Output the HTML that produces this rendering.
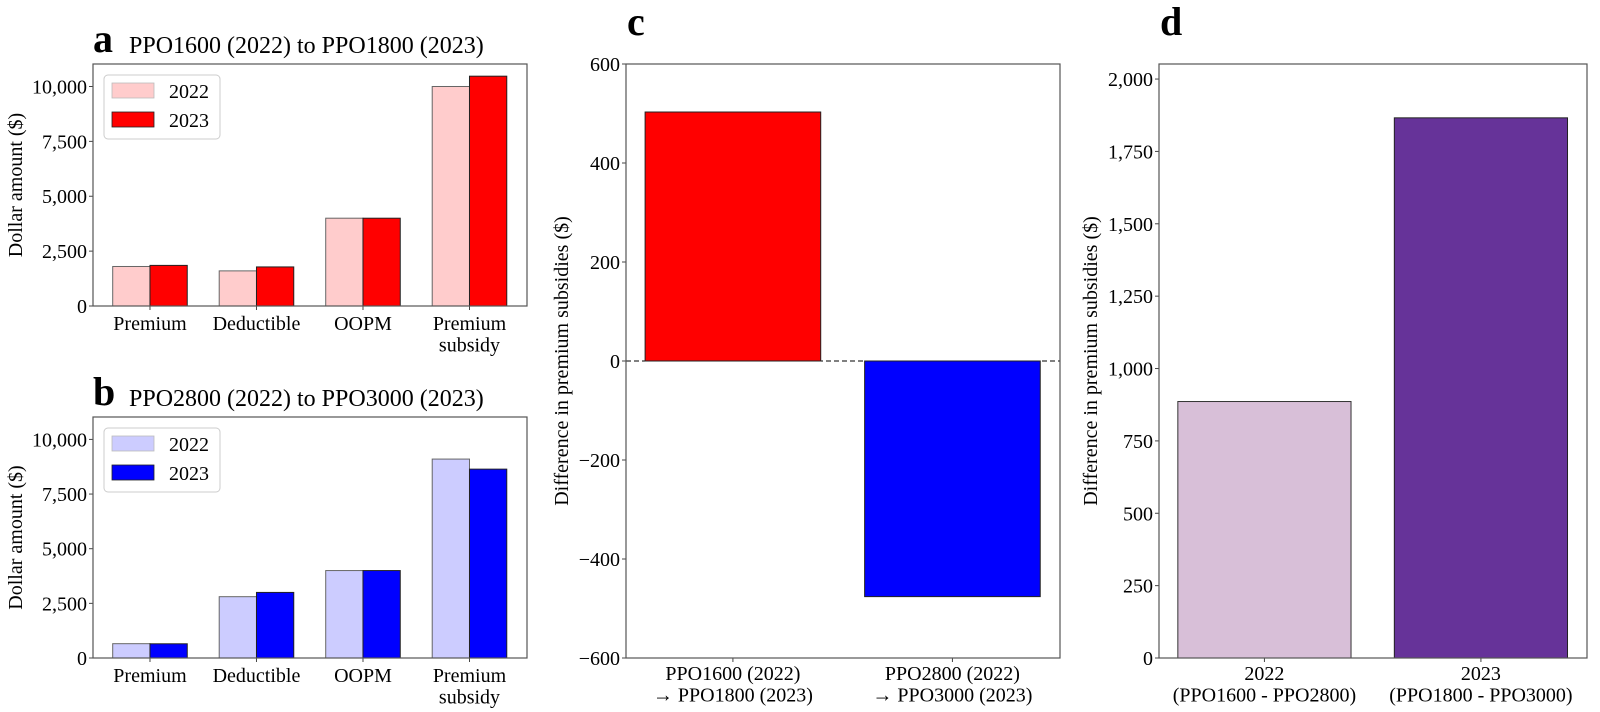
<!DOCTYPE html>
<html><head><meta charset="utf-8"><style>
html,body{margin:0;padding:0;background:#fff;width:1600px;height:712px;overflow:hidden}
svg text{font-family:"Liberation Serif","DejaVu Serif",serif;fill:#000}
</style></head><body>
<svg id="fig" width="1600" height="712" viewBox="0 0 1600 712" xmlns="http://www.w3.org/2000/svg" font-family="Liberation Serif, DejaVu Serif, serif"></svg>
<script>
const catsAB = ["Premium","Deductible","OOPM","Premium\nsubsidy"];
const a2022 = [1800,1600,4000,10000];
const a2023 = [1850,1780,4000,10470];
const b2022 = [655,2805,4000,9100];
const b2023 = [650,3000,4000,8640];
const abTicks = [0,2500,5000,7500,10000];
const abTickLabels = ["0","2,500","5,000","7,500","10,000"];
const cCats = ["PPO1600 (2022)\n\u2192 PPO1800 (2023)","PPO2800 (2022)\n\u2192 PPO3000 (2023)"];
const cVals = [503,-476];
const cTicks = [-600,-400,-200,0,200,400,600];
const cTickLabels = ["\u2212600","\u2212400","\u2212200","0","200","400","600"];
const dCats = ["2022\n(PPO1600 - PPO2800)","2023\n(PPO1800 - PPO3000)"];
const dVals = [886,1866];
const dTicks = [0,250,500,750,1000,1250,1500,1750,2000];
const dTickLabels = ["0","250","500","750","1,000","1,250","1,500","1,750","2,000"];

const NS="http://www.w3.org/2000/svg";
const svg=document.getElementById('fig');
const FS=20;
function mk(tag,attrs,parent){const e=document.createElementNS(NS,tag);for(const k in attrs)e.setAttribute(k,attrs[k]);(parent||svg).appendChild(e);return e;}
function txt(str,x,y,size,anchor,parent,extra){
  const lines=str.split("\n");
  const t=mk('text',Object.assign({x:x,y:y,'font-size':size,'text-anchor':anchor||'middle','font-family':'Liberation Serif, DejaVu Serif, serif'},extra||{}),parent);
  lines.forEach((l,i)=>{const s=mk('tspan',{x:x,dy:i===0?0:size*1.08},t);s.textContent=l;});
  return t;
}
function scaleY(y0,y1,px0,px1){return v=>px0+(v-y0)/(y1-y0)*(px1-px0);}
function scaleX(x0,x1,px0,px1){return v=>px0+(v-x0)/(x1-x0)*(px1-px0);}

function axesFrame(g,L,yS,ticks,labels,name){
  ticks.forEach((v,i)=>{
    const y=yS(v);
    const tk=mk('line',{x1:L-4,x2:L,y1:y,y2:y,stroke:'#444','stroke-width':1},g);
    
    
    const tl=txt(labels[i],L-6,y+7,FS,'end',g);
    
    
  });
}
function frame(g,L,T,R,B,name){
  const f=mk('rect',{x:L,y:T,width:R-L,height:B-T,fill:'none',stroke:'#555','stroke-width':1.2},g);
  
  
}

function groupedPanel(name,letter,title,L,T,R,B,v22,v23,c22,c23){
  const g=mk('g',{},svg);
  
  
  const yS=scaleY(0,11025,B,T);
  const xS=scaleX(-0.535,3.54,L,R);
  const w=0.35;
  axesFrame(g,L,yS,abTicks,abTickLabels,name);
  catsAB.forEach((c,i)=>{
    const x0=xS(i-w),xm=xS(i),x1=xS(i+w);
    const r1=mk('rect',{x:x0,y:yS(v22[i]),width:xm-x0,height:yS(0)-yS(v22[i]),fill:c22,stroke:'#666','stroke-width':1},g);
    
    
    const r2=mk('rect',{x:xm,y:yS(v23[i]),width:x1-xm,height:yS(0)-yS(v23[i]),fill:c23,stroke:'#222','stroke-width':1},g);
    
    
    const tk=mk('line',{x1:xm,x2:xm,y1:B,y2:B+4,stroke:'#444'},g);
    
    
    const tl=txt(c,xm,B+24,FS,'middle',g);
    
    
  });
  frame(g,L,T,R,B,name);
  const yl=txt("Dollar amount ($)",0,0,FS,'middle',g,{transform:`translate(22,${(T+B)/2}) rotate(-90)`});
  
  
  const pl=txt(letter,93,T-12,40,'start',g,{'font-weight':'bold'});
  
  
  const tt=txt(title,129,T-11,24,'start',g);
  
  
  const lg=mk('g',{},g);
  
  
  mk('rect',{x:L+11,y:T+11,width:116,height:64,rx:4,fill:'#fff',stroke:'#ccc','stroke-width':1},lg);
  const e1=mk('rect',{x:L+19,y:T+19,width:42,height:15,fill:c22,stroke:'#bbb','stroke-width':0.8},lg);
  
  
  const e2=mk('rect',{x:L+19,y:T+48,width:42,height:15,fill:c23,stroke:'#222','stroke-width':0.8},lg);
  
  
  const t1=txt("2022",L+76,T+34,FS,'start',lg);
  
  
  const t2=txt("2023",L+76,T+63,FS,'start',lg);
  
  
}
groupedPanel('panel-a','a','PPO1600 (2022) to PPO1800 (2023)',93,64,527,306,a2022,a2023,'#ffcccc','#ff0000');
groupedPanel('panel-b','b','PPO2800 (2022) to PPO3000 (2023)',93,417,527,658,b2022,b2023,'#ccccff','#0000ff');

function simplePanel(name,letter,L,T,R,B,cats,vals,y0,y1,ticks,labels,fills,strokes,ylx,dash){
  const g=mk('g',{},svg);
  
  
  const yS=scaleY(y0,y1,B,T);
  const xS=scaleX(-0.487,1.49,L,R);
  axesFrame(g,L,yS,ticks,labels,name);
  if(dash){
    const z=mk('line',{x1:L,x2:R,y1:yS(0),y2:yS(0),stroke:'#000','stroke-width':1,'stroke-dasharray':'5,3'},g);
    
    
  }
  cats.forEach((c,i)=>{
    const x0=xS(i-0.4),x1=xS(i+0.4);
    const ya=yS(Math.max(0,vals[i])),yb=yS(Math.min(0,vals[i]));
    const r=mk('rect',{x:x0,y:ya,width:x1-x0,height:yb-ya,fill:fills[i],stroke:strokes[i],'stroke-width':1},g);
    
    
    const tk=mk('line',{x1:xS(i),x2:xS(i),y1:B,y2:B+4,stroke:'#444'},g);
    
    
    const tl=txt(c,xS(i),B+22,FS,'middle',g);
    
    
  });
  frame(g,L,T,R,B,name);
  const yl=txt("Difference in premium subsidies ($)",0,0,FS,'middle',g,{transform:`translate(${ylx},${(T+B)/2}) rotate(-90)`});
  
  
  const pl=txt(letter,L+1,35,40,'start',g,{'font-weight':'bold'});
  
  
}
simplePanel('panel-c','c',626,64,1060,658,cCats,cVals,-600,600,cTicks,cTickLabels,['#ff0000','#0000ff'],['#222','#222'],568,true);
simplePanel('panel-d','d',1159,64,1587,658,dCats,dVals,0,2052,dTicks,dTickLabels,['#d8bfd8','#663399'],['#333','#222'],1097,false);
</script>
</body></html>
